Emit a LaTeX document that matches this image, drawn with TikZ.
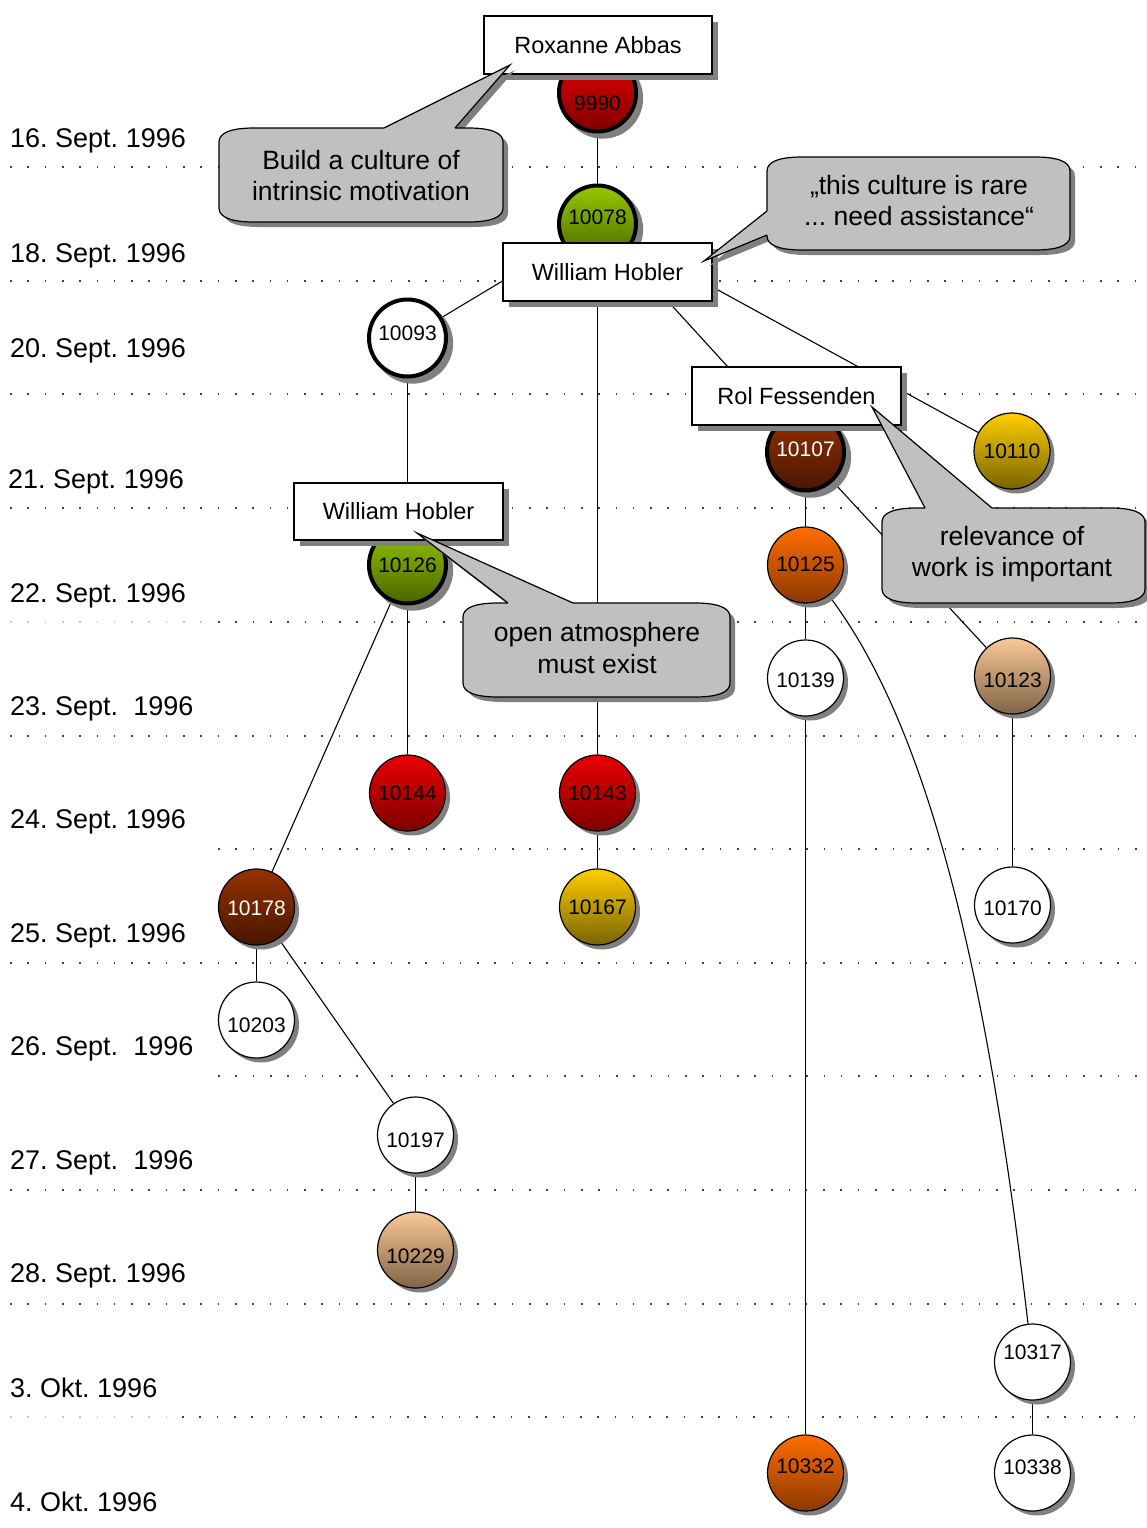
\documentclass[tikz,border=0pt]{standalone}
\usepackage{fontspec}
\setmainfont{Liberation Sans}
\usetikzlibrary{shadows}
\frenchspacing

\definecolor{shgray}{RGB}{128,128,128}
\definecolor{bubblegray}{RGB}{192,192,192}
\definecolor{redT}{RGB}{235,0,0}\definecolor{redB}{RGB}{125,0,0}
\definecolor{greenT}{RGB}{150,200,0}\definecolor{greenB}{RGB}{72,100,0}
\definecolor{brownT}{RGB}{150,50,0}\definecolor{brownB}{RGB}{72,22,0}
\definecolor{orangeT}{RGB}{255,110,0}\definecolor{orangeB}{RGB}{140,55,0}
\definecolor{yellowT}{RGB}{255,205,0}\definecolor{yellowB}{RGB}{120,100,0}
\definecolor{tanT}{RGB}{250,200,150}\definecolor{tanB}{RGB}{128,100,72}

\newcommand\datefont{\fontsize{27}{32}\selectfont}
\newcommand\notefont{\fontsize{26.5}{31.5}\selectfont}
\newcommand\numfont{\fontsize{21}{25}\selectfont}
\newcommand\namefont{\fontsize{23.5}{28}\selectfont}

\pgfdeclarelayer{grid}
\pgfdeclarelayer{links}
\pgfsetlayers{grid,links,main}

\tikzset{
  dotrule/.style={line width=1.6pt, dash pattern=on 1.6pt off 15.7pt, black!75},
  faintrule/.style={line width=1.6pt, dash pattern=on 1.6pt off 15.7pt, black!22},
  datelabel/.style={anchor=base west, inner sep=0pt, font=\datefont},
  disc/.style={circle, draw=black, line width=1.2pt, minimum size=76pt, inner sep=0pt,
    font=\numfont, text depth=0pt, text height=15pt,
    drop shadow={shadow xshift=4.5pt, shadow yshift=-4.5pt, opacity=1, fill=shgray}},
  heavy/.style={line width=4pt, minimum size=77pt,
    drop shadow={shadow xshift=5pt, shadow yshift=-5pt, shadow scale=1.05, opacity=1, fill=shgray}},
  th/.style={text height=#1},
  redball/.style={top color=redT, bottom color=redB},
  greenball/.style={top color=greenT, bottom color=greenB},
  brownball/.style={top color=brownT, bottom color=brownB, text=white},
  orangeball/.style={top color=orangeT, bottom color=orangeB},
  yellowball/.style={top color=yellowT, bottom color=yellowB},
  tanball/.style={top color=tanT, bottom color=tanB},
  whiteball/.style={fill=white},
  personbox/.style={rectangle, draw=black, fill=white, line width=1.2pt,
    minimum width=209pt, minimum height=58pt, inner sep=0pt, font=\namefont,
    drop shadow={shadow xshift=6pt, shadow yshift=-6pt, opacity=1, fill=shgray}},
  link/.style={line width=1.1pt, black},
  bubble/.style n args={4}{insert path={(#1,#2+14) .. controls (#1,#2+4) and (#1+14,#2) .. (#1+35,#2)
    -- (#3-35,#2) .. controls (#3-14,#2) and (#3,#2+4) .. (#3,#2+14)
    -- (#3,#4-14) .. controls (#3,#4-4) and (#3-14,#4) .. (#3-35,#4)
    -- (#1+35,#4) .. controls (#1+14,#4) and (#1,#4-4) .. (#1,#4-14) -- cycle}},
  bubblefill/.style={fill=bubblegray, draw=black, line width=1.2pt},
  bubbleline/.style={draw=black, line width=1.2pt, line join=miter},
  bubbleshadow/.style={fill=shgray, shift={(5,5)}},
  notetext/.style={align=center, font=\notefont, inner sep=0pt},
}

\begin{document}
\begin{tikzpicture}[x=1pt, y=-1pt]
\useasboundingbox (0,0) rectangle (1147,1528);

% ---- day rules ----
\begin{pgfonlayer}{grid}
  \foreach \yy in {167,281,394,508,736,963,1190,1304}
    \draw[dotrule] (10,\yy) -- (1147,\yy);
  \draw[faintrule] (10,622) -- (210,622);
  \draw[dotrule] (218,622) -- (1147,622);
  \draw[dotrule] (218,849) -- (1147,849);
  \draw[dotrule] (218,1076) -- (1147,1076);
  \draw[faintrule] (10,1417) -- (170,1417);
  \draw[dotrule] (182,1417) -- (1147,1417);
\end{pgfonlayer}

% ---- dates ----
\node[datelabel] (d16) at (10,147) {16. Sept. 1996};
\node[datelabel] (d18) at (10,262) {18. Sept. 1996};
\node[datelabel] (d20) at (10,357) {20. Sept. 1996};
\node[datelabel] (d21) at (8,488.5) {21. Sept. 1996};
\node[datelabel] (d22) at (10,602) {22. Sept. 1996};
\node[datelabel] (d23) at (10,715.5) {23. Sept.\ \ 1996};
\node[datelabel] (d24) at (10,828.5) {24. Sept. 1996};
\node[datelabel] (d25) at (10,942) {25. Sept. 1996};
\node[datelabel] (d26) at (10,1055.5) {26. Sept.\ \ 1996};
\node[datelabel] (d27) at (10,1169.5) {27. Sept.\ \ 1996};
\node[datelabel] (d28) at (10,1282) {28. Sept. 1996};
\node[datelabel] (d3) at (10,1397) {3. Okt. 1996};
\node[datelabel] (d4) at (10,1511) {4. Okt. 1996};

% ---- contributions ----
\node[disc, heavy, redball, th=35pt] (n9990) at (597.5,93) {9990};
\node[disc, heavy, greenball, th=1pt] (n10078) at (597.5,224) {10078};
\node[disc, heavy, whiteball, th=5pt] (n10093) at (407.5,338) {10093};
\node[disc, heavy, brownball, th=9pt] (n10107) at (805.5,452) {10107};
\node[disc, yellowball] (n10110) at (1012,451) {10110};
\node[disc, heavy, greenball] (n10126) at (407.5,565) {10126};
\node[disc, orangeball, th=13pt] (n10125) at (805.5,565) {10125};
\node[disc, whiteball, th=19pt] (n10139) at (805.5,678) {10139};
\node[disc, tanball, th=23pt] (n10123) at (1012.5,676) {10123};
\node[disc, redball] (n10144) at (407.5,793) {10144};
\node[disc, redball] (n10143) at (597.5,793) {10143};
\node[disc, brownball, th=17pt] (n10178) at (256.5,907) {10178};
\node[disc, yellowball] (n10167) at (597.5,907) {10167};
\node[disc, whiteball, th=21pt] (n10170) at (1012.5,905) {10170};
\node[disc, whiteball, th=25pt] (n10203) at (256.5,1020) {10203};
\node[disc, whiteball, th=24pt] (n10197) at (415.5,1135) {10197};
\node[disc, tanball, th=27pt] (n10229) at (415.5,1250) {10229};
\node[disc, whiteball, text height=0pt, text depth=5pt] (n10317) at (1032.5,1362) {10317};
\node[disc, whiteball, th=3pt] (n10338) at (1032.5,1473) {10338};
\node[disc, orangeball, th=1pt] (n10332) at (805.5,1473) {10332};

% ---- reply links ----
\begin{pgfonlayer}{links}
  \draw[link] (n9990) -- (n10078);
  \draw[link] (n10078) -- (n10093);
  \draw[link] (n10078) -- (n10143);
  \draw[link] (n10078) -- (n10107);
  \draw[link] (n10078) -- (n10110);
  \draw[link] (n10093) -- (n10126);
  \draw[link] (n10107) -- (n10125);
  \draw[link] (n10107) -- (n10123);
  \draw[link] (n10125) -- (n10139);
  \draw[link] (n10125) .. controls (935,735) and (990,1000) .. (n10317);
  \draw[link] (n10139) -- (n10332);
  \draw[link] (n10123) -- (n10170);
  \draw[link] (n10126) -- (n10144);
  \draw[link] (n10126) -- (n10178);
  \draw[link] (n10143) -- (n10167);
  \draw[link] (n10178) -- (n10203);
  \draw[link] (n10178) -- (n10197);
  \draw[link] (n10197) -- (n10229);
  \draw[link] (n10317) -- (n10338);
\end{pgfonlayer}

% ---- authors ----
\node[personbox, minimum width=228pt] (roxanne) at (598,45) {Roxanne Abbas};
\node[personbox] (hobler) at (607.5,272) {William Hobler};
\node[personbox] (fessenden) at (796.5,396) {Rol Fessenden};
\node[personbox, minimum height=57pt] (hobler2) at (398.5,511.5) {William Hobler};

% ---- notes ----
% Build a culture of intrinsic motivation
\fill[bubbleshadow, bubble={219}{128}{503}{222}];
\fill[bubbleshadow] (384,128) -- (510,65) -- (455,128) -- cycle;
\path[bubblefill, bubble={219}{128}{503}{222}];
\fill[bubblegray] (384,128) -- (510,65) -- (455,128) -- (455,131) -- (384,131) -- cycle;
\draw[bubbleline] (384,128) -- (510,65) -- (455,128);
\node[notetext] (note1) at (361,175.5) {Build a culture of\\intrinsic motivation};

% this culture is rare
\fill[bubbleshadow, bubble={767}{157}{1070}{250}];
\fill[bubbleshadow] (767,211) -- (704,261) -- (767,235) -- cycle;
\path[bubblefill, bubble={767}{157}{1070}{250}];
\fill[bubblegray] (767,211) -- (704,261) -- (767,235) -- (770,235) -- (770,211) -- cycle;
\draw[bubbleline] (767,211) -- (704,261) -- (767,235);
\node[notetext] (note2) at (919,200.5) {„this culture is rare\\... need assistance“};

% relevance of work
\fill[bubbleshadow, bubble={882}{508}{1145}{603}];
\fill[bubbleshadow] (925,508) -- (872,407) -- (992,508) -- cycle;
\path[bubblefill, bubble={882}{508}{1145}{603}];
\fill[bubblegray] (925,508) -- (872,407) -- (992,508) -- (992,511) -- (925,511) -- cycle;
\draw[bubbleline] (925,508) -- (872,407) -- (992,508);
\node[notetext] (note3) at (1012,554) {relevance of\\work is important};

% open atmosphere
\fill[bubbleshadow, bubble={463}{603}{730}{697}];
\fill[bubbleshadow] (508,603) -- (417,533) -- (573,603) -- cycle;
\path[bubblefill, bubble={463}{603}{730}{697}];
\fill[bubblegray] (508,603) -- (417,533) -- (573,603) -- (573,606) -- (508,606) -- cycle;
\draw[bubbleline] (508,603) -- (417,533) -- (573,603);
\node[notetext] (note4) at (597,648) {open atmosphere\\must exist};

\end{tikzpicture}
\end{document}
